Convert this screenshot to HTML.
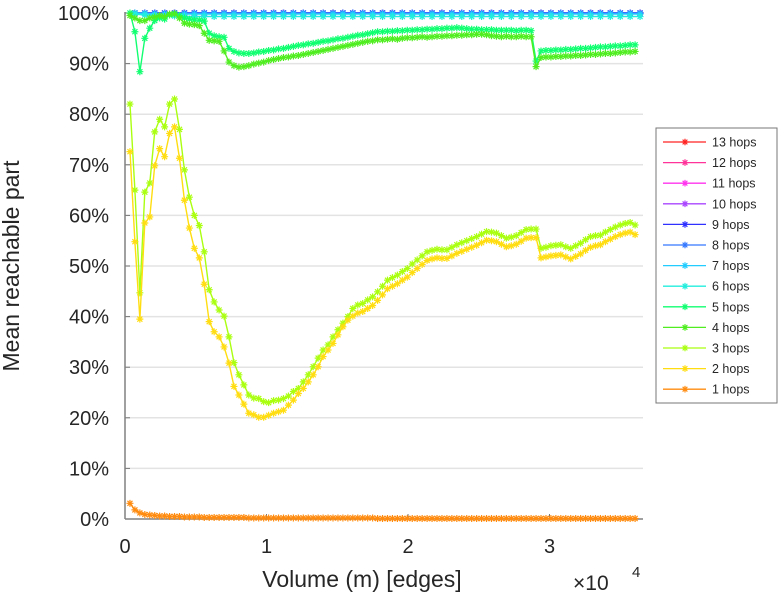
<!DOCTYPE html>
<html><head><meta charset="utf-8"><style>
html,body{margin:0;padding:0;background:#fff;}
svg{display:block;font-family:"Liberation Sans",sans-serif;}
</style></head><body>
<svg id="chart" width="781" height="600" viewBox="0 0 781 600" xmlns="http://www.w3.org/2000/svg">
<g id="grid"></g>
<g id="axes"></g>
<g id="series"></g>
<g id="legend"></g>
</svg>
<script>
const yTicks = [0,10,20,30,40,50,60,70,80,90,100];
const yTickLabels = ["0%","10%","20%","30%","40%","50%","60%","70%","80%","90%","100%"];
const xTicks = [0,10000,20000,30000];
const xTickLabels = ["0","1","2","3"];
const seriesNames = ["13 hops","12 hops","11 hops","10 hops","9 hops","8 hops","7 hops","6 hops","5 hops","4 hops","3 hops","2 hops","1 hops"];
const xStep = 350;
const xStepTop = 700;
const hops1 = [3.1,1.8,1.2,0.9,0.8,0.7,0.6,0.6,0.5,0.5,0.5,0.4,0.4,0.4,0.4,0.3,0.3,0.3,0.3,0.3,0.3,0.3,0.3,0.3,0.2,0.2,0.2,0.2,0.2,0.2,0.2,0.2,0.2,0.2,0.2,0.2,0.2,0.2,0.2,0.2,0.2,0.2,0.2,0.2,0.2,0.2,0.2,0.2,0.2,0.2,0.1,0.1,0.1,0.1,0.1,0.1,0.1,0.1,0.1,0.1,0.1,0.1,0.1,0.1,0.1,0.1,0.1,0.1,0.1,0.1,0.1,0.1,0.1,0.1,0.1,0.1,0.1,0.1,0.1,0.1,0.1,0.1,0.1,0.1,0.1,0.1,0.1,0.1,0.1,0.1,0.1,0.1,0.1,0.1,0.1,0.1,0.1,0.1,0.1,0.1,0.1,0.1,0.1];
const hops2 = [72.6,54.8,39.5,58.5,59.7,69.8,73.2,71.6,76.2,77.5,71.3,63,57.5,53.5,51.6,46.4,39,37,36,34,30.8,26.2,24.5,22.7,20.9,20.6,20.1,20.1,20.5,20.9,21.2,21.5,22.5,23.5,24.8,25.8,27.1,28.5,30.1,32.1,33.4,34.7,36.4,38,39.3,40.1,40.7,41,41.6,42.2,43.2,44.3,45.5,46,46.5,47.2,47.8,48.7,49.5,50.3,51.1,51.4,51.6,51.5,51.5,52,52.5,52.9,53.3,53.7,54.1,54.6,55.1,55,54.8,54.3,53.8,54,54.3,54.9,55.5,55.6,55.6,51.6,51.8,52,52.1,52.2,51.8,51.4,51.9,52.4,53.1,53.7,54,54.2,54.8,55.3,55.8,56.2,56.5,56.7,56.2];
const hops3 = [82,65,44.7,64.6,66.4,76.5,79,77.5,82,83,77,69,63.6,60,58,52.8,45.3,42.9,41.3,40.1,36,30.9,28.5,26.5,24.5,23.9,23.8,23.2,23,23.4,23.5,23.8,24.3,25.2,25.8,27.1,28.5,30.1,31.8,33.4,34.4,36,37.4,38.7,40,41.6,42.3,42.6,43.3,43.9,44.9,46,47.2,47.7,48.2,48.9,49.5,50.4,51.2,52,52.8,53.1,53.3,53.2,53.2,53.7,54.2,54.6,55,55.4,55.8,56.3,56.8,56.7,56.5,56,55.5,55.7,56,56.6,57.2,57.3,57.3,53.5,53.7,54,54.1,54.2,53.8,53.5,54,54.5,55.2,55.8,56,56.1,56.7,57.2,57.7,58.1,58.4,58.6,58.1];
const hops4 = [99.5,99,98.5,98.5,99,99.2,99.5,99.3,99.8,99.8,99,98,97.8,97.7,97.5,96,94.6,94.5,94.4,92.5,90.3,89.6,89.3,89.4,89.6,89.9,90.1,90.3,90.6,90.8,91,91.2,91.3,91.5,91.6,91.8,92,92.2,92.4,92.6,92.8,93,93.2,93.4,93.6,93.8,94,94.2,94.4,94.5,94.7,94.7,94.8,94.9,94.8,95,95.1,95.1,95.2,95.3,95.2,95.3,95.4,95.4,95.5,95.5,95.6,95.6,95.7,95.7,95.8,95.8,95.7,95.5,95.4,95.3,95.4,95.3,95.3,95.4,95.3,95.3,89.4,91.2,91.3,91.3,91.4,91.4,91.5,91.5,91.6,91.6,91.7,91.8,91.8,91.9,92,92,92.1,92.2,92.3,92.3,92.4];
const hops5 = [100,96.3,88.4,95,97,98.5,99,98.8,99.6,99.9,99.5,99,98.8,98.6,98.6,98.4,96,95.5,95.3,95.2,93,92.4,92.1,92,92,92.1,92.3,92.4,92.6,92.7,92.9,93,93.2,93.4,93.6,93.7,93.9,94,94.2,94.4,94.5,94.7,94.9,95,95.2,95.4,95.6,95.7,95.9,96.1,96.3,96.3,96.4,96.4,96.5,96.5,96.6,96.6,96.7,96.7,96.8,96.8,96.9,96.9,97,97,97.1,97,96.9,96.8,96.8,96.7,96.7,96.7,96.6,96.6,96.6,96.6,96.5,96.6,96.6,96.5,90.5,92.5,92.6,92.6,92.7,92.7,92.8,92.8,92.9,93,93,93.1,93.2,93.3,93.3,93.4,93.5,93.5,93.6,93.7,93.7];
const hops6 = [99.8,99.6,99.5,99.4,99.4,99.3,99.3,99.3,99.3,99.3,99.3,99.3,99.3,99.3,99.3,99.3,99.3,99.3,99.3,99.3,99.3,99.3,99.3,99.3,99.3,99.3,99.3,99.3,99.3,99.3,99.3,99.3,99.3,99.3,99.3,99.3,99.3,99.3,99.3,99.3,99.3,99.3,99.3,99.3,99.3,99.3,99.3,99.3,99.3,99.3,99.3,99.3];
const hops7 = [100,99.9,99.8,99.8,99.8,99.8,99.8,99.8,99.8,99.8,99.8,99.8,99.8,99.8,99.8,99.8,99.8,99.8,99.8,99.8,99.8,99.8,99.8,99.8,99.8,99.8,99.8,99.8,99.8,99.8,99.8,99.8,99.8,99.8,99.8,99.8,99.8,99.8,99.8,99.8,99.8,99.8,99.8,99.8,99.8,99.8,99.8,99.8,99.8,99.8,99.8,99.8];
const hops8 = [100,100,100,100,100,100,100,100,100,100,100,100,100,100,100,100,100,100,100,100,100,100,100,100,100,100,100,100,100,100,100,100,100,100,100,100,100,100,100,100,100,100,100,100,100,100,100,100,100,100,100,100];
const hops9 = hops8.slice();
const hops10 = hops8.slice();
const hops11 = hops8.slice();
const hops12 = hops8.slice();
const hops13 = hops8.slice();

const NS = "http://www.w3.org/2000/svg";
const X0 = 125, XS = 141.5/10000, Y0 = 519, YS = 5.06;
const xScale = v => X0 + v*XS;
const yScale = v => Y0 - v*YS;
function mk(tag, attrs, parent){ const e=document.createElementNS(NS,tag); for(const k in attrs) e.setAttribute(k,attrs[k]); parent.appendChild(e); return e; }

const grid = document.getElementById('grid');
const axes = document.getElementById('axes');
yTicks.forEach((t,i)=>{
  if(t>0){ const g=mk('line',{x1:X0,x2:643,y1:yScale(t),y2:yScale(t),stroke:'#e3e3e3','stroke-width':1.5},grid);
    
     }
  const tk=mk('line',{x1:X0,x2:X0+5,y1:yScale(t),y2:yScale(t),stroke:'#777','stroke-width':1},axes);
  
  
  const tl=mk('text',{x:109,y:yScale(t)+7,'text-anchor':'end','font-size':20,fill:'#262626'},axes);
  tl.textContent=yTickLabels[i];
  
  
});
xTicks.forEach((t,i)=>{
  const tk=mk('line',{x1:xScale(t),x2:xScale(t),y1:Y0,y2:Y0-5,stroke:'#777','stroke-width':1},axes);
  
  
  const tl=mk('text',{x:xScale(t),y:553,'text-anchor':'middle','font-size':20,fill:'#262626'},axes);
  tl.textContent=xTickLabels[i];
  
  
});
const ya=mk('line',{x1:X0,x2:X0,y1:12,y2:Y0,stroke:'#808080','stroke-width':1.5},axes);


const xa=mk('line',{x1:X0,x2:643,y1:Y0,y2:Y0,stroke:'#808080','stroke-width':1.5},axes);


const xt=mk('text',{x:362,y:587,'text-anchor':'middle','font-size':23,fill:'#262626'},axes);
xt.textContent='Volume (m) [edges]';


const ex=mk('text',{x:573,y:590,'font-size':21,fill:'#262626'},axes);
ex.textContent='\u00d710';


const ex2=mk('text',{x:632,y:577,'font-size':15,fill:'#262626'},axes);
ex2.textContent='4';


const yt=mk('text',{x:0,y:0,'text-anchor':'middle','font-size':23,fill:'#262626',transform:'translate(19,266) rotate(-90)'},axes);
yt.textContent='Mean reachable part';



const colors = ["#ff2020","#ff3399","#ff33ee","#aa44ff","#3030ff","#3377ff","#22ccff","#22eedd","#10ff70","#50ee20","#aaff10","#ffdd10","#ff8c10"];
const data = [hops13,hops12,hops11,hops10,hops9,hops8,hops7,hops6,hops5,hops4,hops3,hops2,hops1];
const steps = [xStepTop,xStepTop,xStepTop,xStepTop,xStepTop,xStepTop,xStepTop,xStepTop,xStep,xStep,xStep,xStep,xStep];
function star(x,y,r){ const d=r*0.72; return `M${x-r} ${y}L${x+r} ${y}M${x} ${y-r}L${x} ${y+r}M${x-d} ${y-d}L${x+d} ${y+d}M${x-d} ${y+d}L${x+d} ${y-d}`; }
const sg = document.getElementById('series');
data.forEach((arr,si)=>{
  const g=mk('g',{},sg);
  
  
  const pts=arr.map((v,i)=>xScale((i+1)*steps[si]).toFixed(1)+','+yScale(v).toFixed(1));
  const pl=mk('polyline',{points:pts.join(' '),fill:'none',stroke:colors[si],'stroke-width':1.4},g);
  
  
  arr.forEach((v,i)=>{
    const p=mk('path',{d:star(xScale((i+1)*steps[si]),yScale(v),3.5),stroke:colors[si],'stroke-width':1.2,fill:'none'},g);
    
    
  });
});

const lg=document.getElementById('legend');
const box=mk('rect',{x:656,y:128,width:121,height:275,fill:'#fff',stroke:'#777','stroke-width':1},lg);


seriesNames.forEach((n,i)=>{
  const y=142+i*20.6;
  const g=mk('g',{},lg);
  
  
  mk('line',{x1:663,x2:706,y1:y,y2:y,stroke:colors[i],'stroke-width':1.3},g);
  mk('path',{d:star(685,y,3.3),stroke:colors[i],'stroke-width':1.2,fill:'none'},g);
  const t=mk('text',{x:712,y:y+4.5,'font-size':12.5,fill:'#262626'},g);
  t.textContent=n;
});
</script>
</body></html>
